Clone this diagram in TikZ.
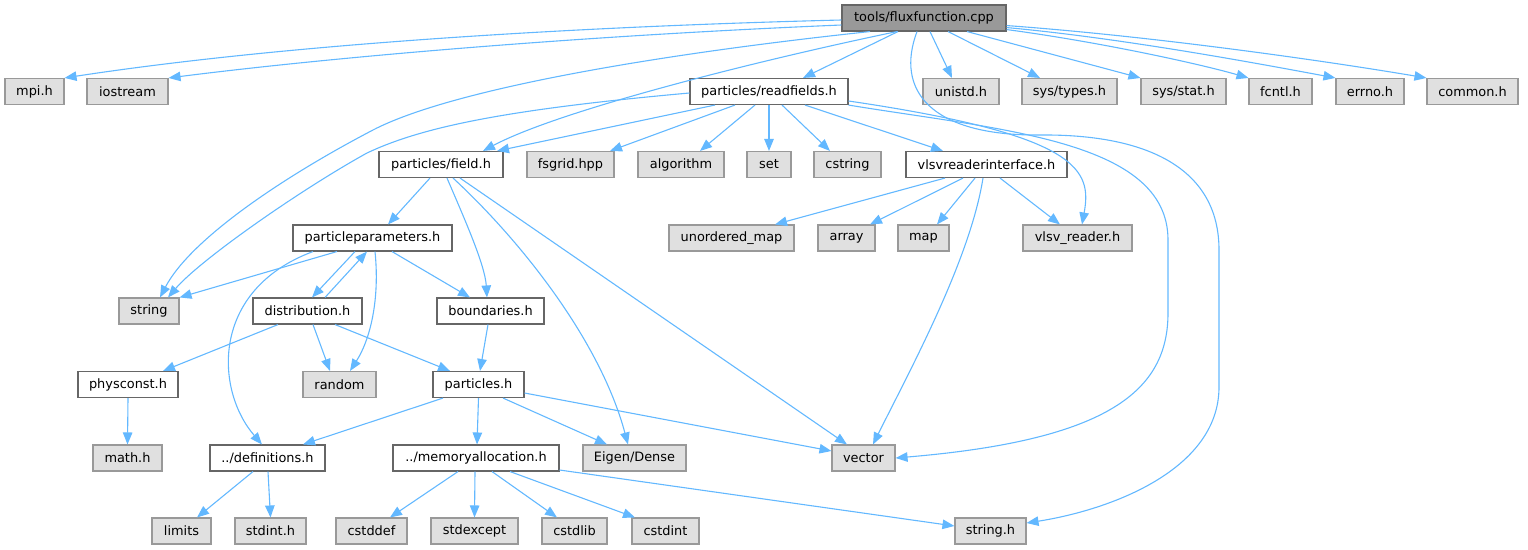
\documentclass[tikz,border=0pt]{standalone}
\usepackage{fontspec}
\setmainfont{DejaVu Sans}
\usetikzlibrary{arrows.meta}
\definecolor{edgeblue}{HTML}{63B8FF}
\definecolor{gfill}{HTML}{E0E0E0}
\definecolor{gdraw}{HTML}{999999}
\definecolor{wdraw}{HTML}{666666}
\definecolor{rfill}{HTML}{999999}
\begin{document}
\begin{tikzpicture}[x=1pt,y=-1pt,
 base/.style={rectangle, inner sep=0pt, minimum height=26pt, line width=1.1pt, font=\fontsize{12.9}{15}\selectfont, text=black},
 gbox/.style={base, draw=gdraw, fill=gfill},
 wbox/.style={base, draw=wdraw, fill=white},
 rbox/.style={base, draw=wdraw, fill=rfill},
 conn/.style={draw=edgeblue, line width=1.1pt, -{Triangle[length=12pt,width=9.5pt]}}]
\useasboundingbox (0,0) rectangle (1528,549);
% row 1
\node[rbox, minimum width=164pt] (root) at (924,18) {tools/fluxfunction.cpp};
% row 2
\node[gbox, minimum width=59pt] (mpi) at (34.5,91.5) {mpi.h};
\node[gbox, minimum width=81pt] (iostream) at (127.5,91.5) {iostream};
\node[wbox, minimum width=158pt] (readfields) at (769,91.5) {particles/readfields.h};
\node[gbox, minimum width=76pt] (unistd) at (961,91.5) {unistd.h};
\node[gbox, minimum width=95pt] (systypes) at (1069.5,91.5) {sys/types.h};
\node[gbox, minimum width=85pt] (sysstat) at (1183.5,91.5) {sys/stat.h};
\node[gbox, minimum width=63pt] (fcntl) at (1280.5,91.5) {fcntl.h};
\node[gbox, minimum width=68pt] (errno) at (1370,91.5) {errno.h};
\node[gbox, minimum width=91pt] (common) at (1472.5,91.5) {common.h};
% row 3
\node[wbox, minimum width=124pt] (field) at (441,164.5) {particles/field.h};
\node[gbox, minimum width=87pt] (fsgrid) at (570.5,164.5) {fsgrid.hpp};
\node[gbox, minimum width=86pt] (algorithm) at (681,164.5) {algorithm};
\node[gbox, minimum width=44pt] (set) at (769,164.5) {set};
\node[gbox, minimum width=67pt] (cstring) at (847.5,164.5) {cstring};
\node[wbox, minimum width=161pt] (vlsvri) at (986.5,164.5) {vlsvreaderinterface.h};
% row 4
\node[wbox, minimum width=159pt] (pp) at (372.5,238) {particleparameters.h};
\node[gbox, minimum width=125pt] (umap) at (731.5,238) {unordered\_map};
\node[gbox, minimum width=57pt] (array) at (846.5,238) {array};
\node[gbox, minimum width=51pt] (map) at (923.5,238) {map};
\node[gbox, minimum width=109pt] (vlsvr) at (1077.5,238) {vlsv\_reader.h};
% row 5
\node[gbox, minimum width=60pt] (string) at (149,311) {string};
\node[wbox, minimum width=109pt] (distribution) at (307.5,311) {distribution.h};
\node[wbox, minimum width=107pt] (boundaries) at (490.5,311) {boundaries.h};
% row 6
\node[wbox, minimum width=100pt] (physconst) at (128,384.5) {physconst.h};
\node[gbox, minimum width=73pt] (random) at (339.5,384.5) {random};
\node[wbox, minimum width=91pt] (particles) at (478.5,384.5) {particles.h};
% row 7
\node[gbox, minimum width=69pt] (math) at (127.5,458) {math.h};
\node[wbox, minimum width=115pt] (defs) at (267.5,458) {../definitions.h};
\node[wbox, minimum width=166pt] (memalloc) at (476,458) {../memoryallocation.h};
\node[gbox, minimum width=103pt] (eigen) at (634.5,458) {Eigen/Dense};
\node[gbox, minimum width=63pt] (vector) at (863.5,458) {vector};
% row 8
\node[gbox, minimum width=59pt] (limits) at (181.5,531) {limits};
\node[gbox, minimum width=71pt] (stdint) at (270.5,531) {stdint.h};
\node[gbox, minimum width=71pt] (cstddef) at (371.5,531) {cstddef};
\node[gbox, minimum width=87pt] (stdexcept) at (474.5,531) {stdexcept};
\node[gbox, minimum width=65pt] (cstdlib) at (574.5,531) {cstdlib};
\node[gbox, minimum width=67pt] (cstdint) at (665.5,531) {cstdint};
\node[gbox, minimum width=71pt] (stringh) at (990.5,531) {string.h};

% edges from root
\draw[conn] ([yshift=-2pt]root.west) .. controls (600,26) and (300,42) .. (mpi.north east);
\draw[conn] ([yshift=-7pt]root.west) .. controls (600,35) and (350,55) .. (iostream.north east);
\draw[conn] ([xshift=-54pt]root.south) .. controls (650,55) and (450,90) .. (373,130) .. controls (281,178) and (190,240) .. ([xshift=11pt]string.north);
\draw[conn] ([xshift=-27pt]root.south) .. controls (760,60) and (560,110) .. ([xshift=42pt]field.north);
\draw[conn] ([xshift=-26pt]root.south) -- ([xshift=34pt]readfields.north);
\draw[conn] ([xshift=6pt]root.south) -- ([xshift=-9pt]unistd.north);
\draw[conn] ([xshift=24pt]root.south) -- ([xshift=-29.5pt]systypes.north);
\draw[conn] ([xshift=43pt]root.south) -- (sysstat.north west);
\draw[conn] ([yshift=2pt]root.south east) .. controls (1100,42) and (1200,64) .. (fcntl.north west);
\draw[conn] ([yshift=4pt]root.south east) .. controls (1120,38) and (1250,62) .. (errno.north west);
\draw[conn] ([yshift=6pt]root.south east) .. controls (1150,36) and (1320,60) .. (common.north west);
\draw[conn] ([xshift=-7pt]root.south) .. controls (895,90) and (930,136) .. (1040,135) .. controls (1150,134) and (1219,170) .. (1219,250) -- (1219,387) .. controls (1219,470) and (1110,510) .. ([yshift=8pt]stringh.east);

% edges from readfields
\draw[conn] ([yshift=-1.5pt]readfields.west) .. controls (500,110) and (420,128) .. (367,153) .. controls (300,190) and (200,260) .. ([xshift=19pt]string.north);
\draw[conn] ([xshift=-54pt]readfields.south) -- ([xshift=56pt]field.north);
\draw[conn] ([xshift=-34pt]readfields.south) -- ([xshift=39.5pt]fsgrid.north);
\draw[conn] ([xshift=-14pt]readfields.south) -- ([xshift=19pt]algorithm.north);
\draw[conn] (readfields.south) -- (set.north);
\draw[conn] ([xshift=13pt]readfields.south) -- ([xshift=-17.5pt]cstring.north);
\draw[conn] ([xshift=36pt]readfields.south) -- ([xshift=-43.5pt]vlsvri.north);
\draw[conn] ([yshift=-9.5pt]readfields.east) .. controls (1080,135) and (1092,170) .. ([xshift=4.5pt]vlsvr.north);
\draw[conn] (readfields.south east) .. controls (1000,130) and (1168,140) .. (1168,240) -- (1168,313) .. controls (1168,390) and (1110,440) .. (vector.east);

% edges from field
\draw[conn] ([xshift=-11pt]field.south) -- ([xshift=15.5pt]pp.north);
\draw[conn] ([xshift=6pt]field.south) .. controls (465,220) and (485,265) .. ([xshift=-3.5pt]boundaries.north);
\draw[conn] ([xshift=12pt]field.south) .. controls (520,240) and (600,340) .. ([xshift=-6.5pt]eigen.north);
\draw[conn] ([xshift=19pt]field.south) -- ([xshift=-16.5pt]vector.north);

% edges from vlsvreaderinterface
\draw[conn] ([xshift=-41.5pt]vlsvri.south) -- ([xshift=43.5pt]umap.north);
\draw[conn] ([xshift=-23.5pt]vlsvri.south) -- ([xshift=23.5pt]array.north);
\draw[conn] ([xshift=-11.5pt]vlsvri.south) -- ([xshift=13.5pt]map.north);
\draw[conn] ([xshift=-3.5pt]vlsvri.south) .. controls (970,260) and (910,370) .. ([xshift=9.5pt]vector.north);
\draw[conn] ([xshift=13.5pt]vlsvri.south) -- ([xshift=-17.5pt]vlsvr.north);

% edges from particleparameters
\draw[conn] ([xshift=-35.5pt]pp.south) -- (string.north east);
\draw[conn] ([xshift=-59.5pt]pp.south) .. controls (210,290) and (215,390) .. ([xshift=-5.5pt]defs.north);
\draw[conn] ([xshift=-17.5pt]pp.south) -- ([xshift=4.5pt]distribution.north);
\draw[conn] ([xshift=17.5pt]distribution.north) -- ([xshift=-5.5pt]pp.south);
\draw[conn] ([xshift=2.5pt]pp.south) .. controls (380,300) and (370,340) .. ([xshift=10.5pt]random.north);
\draw[conn] ([xshift=19.5pt]pp.south) -- ([xshift=-20.5pt]boundaries.north);

% edges from distribution
\draw[conn] ([xshift=-29.5pt]distribution.south) -- ([xshift=35pt]physconst.north);
\draw[conn] ([xshift=5.5pt]distribution.south) -- ([xshift=-9.5pt]random.north);
\draw[conn] ([xshift=27.5pt]distribution.south) -- ([xshift=-28.5pt]particles.north);

% others
\draw[conn] ([xshift=-2.5pt]boundaries.south) -- ([xshift=1.5pt]particles.north);
\draw[conn] (physconst.south) -- (math.north);
\draw[conn] ([xshift=-35.5pt]particles.south) -- ([xshift=35.5pt]defs.north);
\draw[conn] (particles.south) -- ([xshift=1pt]memalloc.north);
\draw[conn] ([xshift=24.5pt]particles.south) -- ([xshift=-27.5pt]eigen.north);
\draw[conn] ([yshift=-8.5pt]particles.east) -- ([yshift=7pt]vector.west);
\draw[conn] ([xshift=-14.5pt]defs.south) -- ([xshift=15.5pt]limits.north);
\draw[conn] ([xshift=0.5pt]defs.south) -- (stdint.north);
\draw[conn] ([xshift=-18pt]memalloc.south) -- ([xshift=18.5pt]cstddef.north);
\draw[conn] ([xshift=-1pt]memalloc.south) -- (stdexcept.north);
\draw[conn] ([xshift=16pt]memalloc.south) -- ([xshift=-17.5pt]cstdlib.north);
\draw[conn] ([xshift=34pt]memalloc.south) -- ([xshift=-30.5pt]cstdint.north);
\draw[conn] ([yshift=-12pt]memalloc.east) -- ([yshift=5pt]stringh.west);
\end{tikzpicture}
\end{document}
